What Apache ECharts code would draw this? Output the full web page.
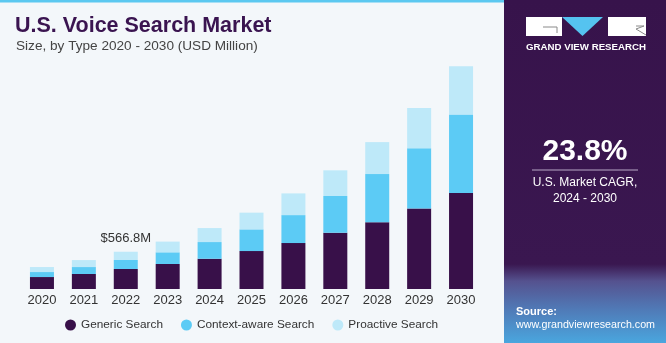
<!DOCTYPE html>
<html>
<head>
<meta charset="utf-8">
<script src="https://cdn.jsdelivr.net/npm/echarts@6/dist/echarts.min.js"></script>
<style>
html,body{margin:0;padding:0;background:#f3f7fa;}
#chart{width:666px;height:343px;}
</style>
</head>
<body>
<div id="chart"></div>
<script>
var years = ['2020','2021','2022','2023','2024','2025','2026','2027','2028','2029','2030'];
var genericSearch = [182, 228, 304, 380, 460, 577, 699, 856, 1014, 1226, 1459];
var contextAwareSearch = [76, 106, 137, 178, 254, 330, 425, 558, 734, 916, 1196];
var proactiveSearch = [76, 106, 125.8, 163, 213, 254, 330, 391, 486, 612, 734];
var annotationYear = '2022';
var annotationText = '$566.8M';
var cagrText = '23.8%';

var FONT = '"Liberation Sans", Arial, sans-serif';
var chart = echarts.init(document.getElementById('chart'), null, {renderer: 'canvas'});

function series(name, data, color, isTop) {
  var s = {
    name: name,
    type: 'bar',
    stack: 'total',
    barWidth: 24,
    data: data,
    itemStyle: {color: color},
    emphasis: {disabled: true}
  };
  if (isTop) {
    s.label = {
      show: true,
      position: 'top',
      distance: 7,
      fontFamily: FONT,
      fontSize: 13,
      color: '#333333',
      formatter: function (p) { return p.name === annotationYear ? annotationText : ''; }
    };
  }
  return s;
}

var option = {
  backgroundColor: '#f3f7fa',
  animation: false,
  title: [{
    text: 'U.S. Voice Search Market',
    left: 15, top: 15, padding: 0,
    textStyle: {fontFamily: FONT, fontSize: 21.5, fontWeight: 'bold', color: '#3a1450'}
  }, {
    text: 'Size, by Type 2020 - 2030 (USD Million)',
    left: 16, top: 39, padding: 0,
    textStyle: {fontFamily: FONT, fontSize: 13.6, fontWeight: 'normal', color: '#444444'}
  }],
  legend: {
    top: 314, left: 60,
    itemGap: 18,
    icon: 'circle',
    itemWidth: 11, itemHeight: 11,
    textStyle: {fontFamily: FONT, fontSize: 11.8, color: '#333333'},
    data: ['Generic Search', 'Context-aware Search', 'Proactive Search']
  },
  grid: {left: 21, width: 461, top: 26, bottom: 54, containLabel: false},
  xAxis: {
    type: 'category',
    data: years,
    axisLine: {show: false},
    axisTick: {show: false},
    axisLabel: {fontFamily: FONT, fontSize: 13, color: '#333333', margin: 5}
  },
  yAxis: {
    type: 'value', min: 0, max: 4000,
    show: false,
    splitLine: {show: false}
  },
  series: [
    series('Generic Search', genericSearch, '#381049', false),
    series('Context-aware Search', contextAwareSearch, '#5ccbf5', false),
    series('Proactive Search', proactiveSearch, '#bee9f9', true)
  ],
  graphic: [
    {type: 'rect', shape: {x: 0, y: 0, width: 504, height: 2.5}, style: {fill: '#5bc8f0'}, z: 10},
    {type: 'rect', shape: {x: 504, y: 0, width: 162, height: 343},
      style: {fill: new echarts.graphic.LinearGradient(0, 0, 0, 1, [
        {offset: 0, color: '#37134b'},
        {offset: 0.77, color: '#3a1750'},
        {offset: 0.82, color: '#55528f'},
        {offset: 0.9, color: '#5079b6'},
        {offset: 1, color: '#4aa6de'}
      ])}, z: 10},
    // logo
    {type: 'rect', shape: {x: 526, y: 17, width: 36, height: 19}, style: {fill: '#ffffff'}, z: 11},
    {type: 'polyline', shape: {points: [[543, 27], [557, 27], [557, 33]]}, style: {stroke: '#8a8a8a', lineWidth: 1, fill: null}, z: 12},
    {type: 'polygon', shape: {points: [[562, 17], [603, 17], [582.5, 36]]}, style: {fill: '#55c3f0'}, z: 11},
    {type: 'rect', shape: {x: 608, y: 17, width: 38, height: 19}, style: {fill: '#ffffff'}, z: 11},
    {type: 'polyline', shape: {points: [[636, 26], [644, 26], [636, 29], [646, 35]]}, style: {stroke: '#8a8a8a', lineWidth: 1, fill: null}, z: 12},
    {type: 'text', x: 586, y: 47, style: {text: 'GRAND VIEW RESEARCH', fill: '#ffffff', font: 'bold 9.7px ' + FONT, textAlign: 'center', textVerticalAlign: 'middle'}, z: 11},
    // CAGR
    {type: 'text', x: 585, y: 152, style: {text: cagrText, fill: '#ffffff', font: 'bold 30px ' + FONT, textAlign: 'center', textVerticalAlign: 'middle'}, z: 11},
    {type: 'line', shape: {x1: 532, y1: 170, x2: 638, y2: 170}, style: {stroke: '#b9a9c6', lineWidth: 1}, z: 11},
    {type: 'text', x: 585, y: 183, style: {text: 'U.S. Market CAGR,', fill: '#ffffff', font: '12px ' + FONT, textAlign: 'center', textVerticalAlign: 'middle'}, z: 11},
    {type: 'text', x: 585, y: 199, style: {text: '2024 - 2030', fill: '#ffffff', font: '12px ' + FONT, textAlign: 'center', textVerticalAlign: 'middle'}, z: 11},
    // source
    {type: 'text', x: 516, y: 312, style: {text: 'Source:', fill: '#ffffff', font: 'bold 11px ' + FONT, textAlign: 'left', textVerticalAlign: 'middle'}, z: 11},
    {type: 'text', x: 516, y: 325, style: {text: 'www.grandviewresearch.com', fill: '#ffffff', font: '10.7px ' + FONT, textAlign: 'left', textVerticalAlign: 'middle'}, z: 11}
  ]
};
chart.setOption(option);
</script>
</body>
</html>
